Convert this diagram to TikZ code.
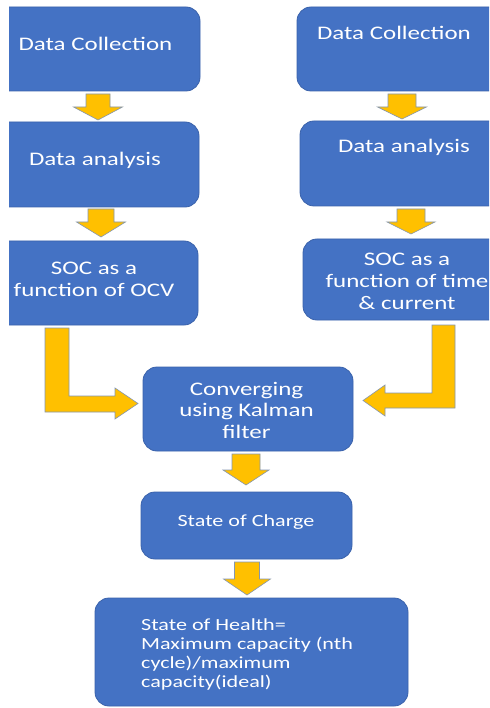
\documentclass[tikz,border=0pt]{standalone}
\usepackage{fontspec}
\newfontfamily\boxfont{Carlito}[FakeStretch=1.3]
\definecolor{boxblue}{HTML}{4472C4}
\definecolor{boxedge}{HTML}{3A62AB}
\definecolor{arrowfill}{HTML}{FFC000}
\definecolor{arrowedge}{HTML}{8496B0}
\newcommand\blockdown[6]{% cx, top, headstart, tip, shafthalf, headhalf
  \draw[blockarrow] (#1-#5,#2) -- (#1+#5,#2) -- (#1+#5,#3) -- (#1+#6,#3) -- (#1,#4) -- (#1-#6,#3) -- (#1-#5,#3) -- cycle;}
\tikzset{
  flowbox/.style={draw=boxedge, fill=boxblue, line width=0.8pt, rounded corners=14pt,
    rectangle, inner sep=0pt, outer sep=0pt},
  bigtext/.style={text=white, font=\boxfont\fontsize{19.2}{22}\selectfont, align=center, inner sep=0pt},
  smalltext/.style={text=white, font=\boxfont\fontsize{17}{19}\selectfont, inner sep=0pt},
  blockarrow/.style={fill=arrowfill, draw=arrowedge, line width=0.6pt, line join=miter}
}
\begin{document}
\begin{tikzpicture}[x=1pt, y=-1pt]
\useasboundingbox (0,0) rectangle (489,708);
\fill[white] (0,0) rectangle (489,708);
\begin{scope}
\clip (9,0) rectangle (489,708);
% boxes
\node[flowbox, minimum width=220pt, minimum height=84pt] (ldc) at (90,49) {};
\node[flowbox, minimum width=219pt, minimum height=85pt] (lda) at (89.5,164.5) {};
\node[flowbox, minimum width=218pt, minimum height=84pt] (lsoc) at (89,283) {};
\node[flowbox, minimum width=213pt, minimum height=84pt] (rdc) at (403.5,49) {};
\node[flowbox, minimum width=210pt, minimum height=85pt] (rda) at (405,163.5) {};
\node[flowbox, minimum width=207pt, minimum height=81pt] (rsoc) at (406.5,279.5) {};
\node[flowbox, minimum width=210pt, minimum height=84pt] (conv) at (248,409) {};
\node[flowbox, minimum width=211pt, minimum height=67pt] (charge) at (246.5,525.5) {};
\node[flowbox, minimum width=313pt, minimum height=108pt] (health) at (251.5,652) {};
% texts
\node[bigtext] (tldc) at (95.5,44) {Data Collection};
\node[bigtext] (trdc) at (394,33) {Data Collection};
\node[bigtext] (tlda) at (95,160) {Data analysis};
\node[bigtext] (trda) at (404,147) {Data analysis};
\node[bigtext] (tlsoc) at (94,279) {SOC as a\\function of OCV};
\node[bigtext] (trsoc) at (407,281) {SOC as a\\function of time\\\& current};
\node[bigtext, font=\boxfont\fontsize{19.2}{21.5}\selectfont] (tconv) at (246.5,410) {Converging\\using Kalman\\filter};
\node[smalltext] (tcharge) at (246,522) {State of Charge};
\node[smalltext, align=left, anchor=west] (thealth) at (141,654.5) {State of Health=\\Maximum capacity (nth\\cycle)/maximum\\capacity(ideal)};
% block arrows
\blockdown{98}{94}{107}{120}{12}{24.5}
\blockdown{101}{209}{222}{237}{13}{24.5}
\blockdown{402}{94}{107}{119}{14}{24.5}
\blockdown{411}{209}{222}{234}{14}{24}
\blockdown{246}{454}{470}{485}{14}{23}
\blockdown{247}{562}{579}{595}{12.5}{23.5}
% bent arrows
\draw[blockarrow] (45,328) -- (69,328) -- (69,396) -- (115,396) -- (115,388) -- (138,403.5) -- (115,419) -- (115,412) -- (45,412) -- cycle;
\draw[blockarrow] (432,325) -- (455,325) -- (455,408) -- (385,408) -- (385,416) -- (363,400.5) -- (385,385) -- (385,393) -- (432,393) -- cycle;
\end{scope}
\end{tikzpicture}
\end{document}
